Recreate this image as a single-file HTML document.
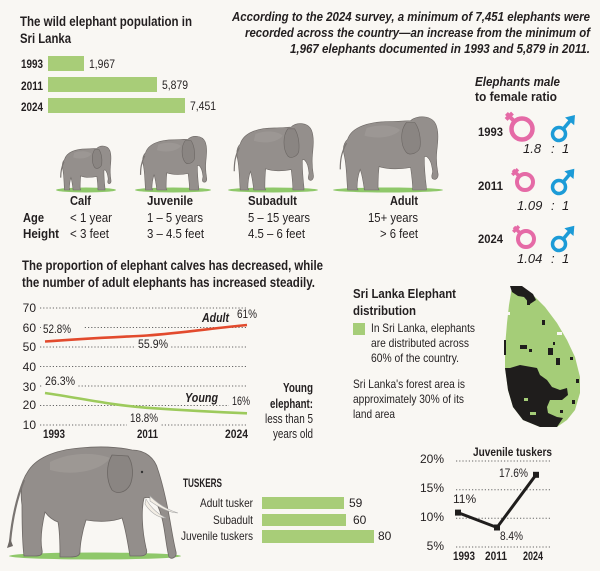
<!DOCTYPE html>
<html><head><meta charset="utf-8">
<style>
html,body{margin:0;padding:0;background:#f9f7f3;}
svg{display:block;}
text{font-family:"Liberation Sans",Arial,sans-serif;fill:#231f20;}
.b{font-weight:bold;}
.i{font-style:italic;}
</style></head>
<body>
<svg width="600" height="571" viewBox="0 0 600 571" xmlns="http://www.w3.org/2000/svg">
<defs>
<g id="el">
<path d="M12,26 C16,12 34,7 52,7 C62,7 68,6 72,6 C78,0 92,0 96,10 C99,18 98,28 97,38 C96,48 97,56 98,62 C99,67 96,70 93,68 C91,66 93,63 93,60 C92,52 91,48 88,45 C87,44 86,44 85,45 C85,58 86,68 87,77 L87,80 L74,80 C74,72 73,64 72,56 C62,58 50,58 42,55 C41,64 41,72 41,78 L42,80 L28,80 C27,72 26,64 24,58 C22,64 21,72 21,78 L22,80 L12,80 C11,66 11,54 9,44 C7,36 8,30 12,26 Z" fill="#948f8c" stroke="#6e6966" stroke-width="0.6" vector-effect="non-scaling-stroke"/>
<path d="M11,30 C6,40 5,48 5,58" fill="none" stroke="#7a7572" stroke-width="1.2" vector-effect="non-scaling-stroke"/>
<path d="M68,8 C62,16 62,32 68,40 C72,44 80,40 81,34 C82,24 80,14 76,8 Z" fill="#8a8582" stroke="#6b6663" stroke-width="0.6" vector-effect="non-scaling-stroke"/>
<path d="M30,14 C40,10 55,10 62,16 C56,24 40,26 28,22 Z" fill="#a29d9a" opacity="0.6"/>
</g>
</defs>

<!-- Title & population bars -->
<text x="20" y="26" class="b" font-size="14" textLength="172" lengthAdjust="spacingAndGlyphs">The wild elephant population in</text>
<text x="20" y="43" class="b" font-size="14" textLength="51" lengthAdjust="spacingAndGlyphs">Sri Lanka</text>
<text x="21" y="68" class="b" font-size="11.5" textLength="22" lengthAdjust="spacingAndGlyphs">1993</text>
<text x="21" y="90" class="b" font-size="11.5" textLength="22" lengthAdjust="spacingAndGlyphs">2011</text>
<text x="21" y="111" class="b" font-size="11.5" textLength="22" lengthAdjust="spacingAndGlyphs">2024</text>
<rect x="48" y="56" width="36" height="15" fill="#a8cd78"/>
<rect x="48" y="77" width="109" height="15" fill="#a8cd78"/>
<rect x="48" y="98" width="137" height="15" fill="#a8cd78"/>
<text x="89" y="68" font-size="12" textLength="26" lengthAdjust="spacingAndGlyphs">1,967</text>
<text x="162" y="89" font-size="12" textLength="26" lengthAdjust="spacingAndGlyphs">5,879</text>
<text x="190" y="110" font-size="12" textLength="26" lengthAdjust="spacingAndGlyphs">7,451</text>

<!-- Top right text -->
<text x="232" y="21" class="b i" font-size="13" textLength="358" lengthAdjust="spacingAndGlyphs">According to the 2024 survey, a minimum of 7,451 elephants were</text>
<text x="245" y="37" class="b i" font-size="13" textLength="345" lengthAdjust="spacingAndGlyphs">recorded across the country—an increase from the minimum of</text>
<text x="290" y="53" class="b i" font-size="13" textLength="300" lengthAdjust="spacingAndGlyphs">1,967 elephants documented in 1993 and 5,879 in 2011.</text>

<!-- Ratio -->
<text x="475" y="86" class="b i" font-size="13" textLength="85" lengthAdjust="spacingAndGlyphs">Elephants male</text>
<text x="475" y="101" class="b" font-size="13" textLength="82" lengthAdjust="spacingAndGlyphs">to female ratio</text>

<text x="478" y="136" class="b" font-size="12" textLength="25" lengthAdjust="spacingAndGlyphs">1993</text>
<text x="478" y="190" class="b" font-size="12" textLength="25" lengthAdjust="spacingAndGlyphs">2011</text>
<text x="478" y="243" class="b" font-size="12" textLength="25" lengthAdjust="spacingAndGlyphs">2024</text>

<!-- female symbols -->
<g stroke="#e56aa6" fill="none" stroke-linecap="butt">
 <g transform="translate(522,129) rotate(-45)">
  <circle r="10.5" stroke-width="4.5"/>
  <line x1="0" y1="-12" x2="0" y2="-22" stroke-width="4"/>
  <line x1="-4.5" y1="-18" x2="4.5" y2="-18" stroke-width="4"/>
 </g>
 <g transform="translate(525,182) rotate(-45)">
  <circle r="8" stroke-width="4"/>
  <line x1="0" y1="-9" x2="0" y2="-17" stroke-width="3.5"/>
  <line x1="-4" y1="-14" x2="4" y2="-14" stroke-width="3.5"/>
 </g>
 <g transform="translate(526,239) rotate(-45)">
  <circle r="8" stroke-width="4"/>
  <line x1="0" y1="-9" x2="0" y2="-17" stroke-width="3.5"/>
  <line x1="-4" y1="-14" x2="4" y2="-14" stroke-width="3.5"/>
 </g>
</g>
<!-- male symbols -->
<g stroke="#1c9bd7" fill="none">
 <g transform="translate(559,134) rotate(40)">
  <circle r="6.5" stroke-width="3.5"/>
  <line x1="0" y1="-8" x2="0" y2="-18" stroke-width="3.5"/>
  <path d="M-5,-17 L0,-24 L5,-17 Z" fill="#1c9bd7" stroke-width="1"/>
 </g>
 <g transform="translate(559,187) rotate(40)">
  <circle r="6.5" stroke-width="3.5"/>
  <line x1="0" y1="-8" x2="0" y2="-17" stroke-width="3.5"/>
  <path d="M-5,-16 L0,-23 L5,-16 Z" fill="#1c9bd7" stroke-width="1"/>
 </g>
 <g transform="translate(559,244) rotate(40)">
  <circle r="6.5" stroke-width="3.5"/>
  <line x1="0" y1="-8" x2="0" y2="-17" stroke-width="3.5"/>
  <path d="M-5,-16 L0,-23 L5,-16 Z" fill="#1c9bd7" stroke-width="1"/>
 </g>
</g>
<text x="523" y="153" class="i" font-size="13" fill="#333">1.8</text>
<text x="551" y="153" class="i" font-size="13">:</text>
<text x="562" y="153" class="i" font-size="13">1</text>
<text x="517" y="210" class="i" font-size="13">1.09</text>
<text x="551" y="210" class="i" font-size="13">:</text>
<text x="562" y="210" class="i" font-size="13">1</text>
<text x="517" y="263" class="i" font-size="13">1.04</text>
<text x="551" y="263" class="i" font-size="13">:</text>
<text x="562" y="263" class="i" font-size="13">1</text>

<!-- Elephant row -->
<ellipse cx="86" cy="190" rx="30" ry="2.5" fill="#8fc86a"/>
<ellipse cx="173" cy="190" rx="38" ry="2.5" fill="#8fc86a"/>
<ellipse cx="273" cy="190" rx="45" ry="2.5" fill="#8fc86a"/>
<ellipse cx="388" cy="190" rx="55" ry="2.5" fill="#8fc86a"/>
<use href="#el" transform="translate(58,145) scale(0.54,0.5625)"/>
<use href="#el" transform="translate(137,135) scale(0.71,0.6875)"/>
<use href="#el" transform="translate(230,122) scale(0.85,0.85)"/>
<use href="#el" transform="translate(335,115) scale(1.05,0.9375)"/>

<text x="70" y="205" class="b" font-size="13" textLength="21" lengthAdjust="spacingAndGlyphs">Calf</text>
<text x="147" y="205" class="b" font-size="13" textLength="46" lengthAdjust="spacingAndGlyphs">Juvenile</text>
<text x="248" y="205" class="b" font-size="13" textLength="49" lengthAdjust="spacingAndGlyphs">Subadult</text>
<text x="390" y="205" class="b" font-size="13" textLength="28" lengthAdjust="spacingAndGlyphs">Adult</text>
<text x="23" y="222" class="b" font-size="13" textLength="21" lengthAdjust="spacingAndGlyphs">Age</text>
<text x="23" y="238" class="b" font-size="13" textLength="36" lengthAdjust="spacingAndGlyphs">Height</text>
<text x="70" y="222" font-size="12.5" textLength="42" lengthAdjust="spacingAndGlyphs">&lt; 1 year</text>
<text x="147" y="222" font-size="12.5" textLength="56" lengthAdjust="spacingAndGlyphs">1 – 5 years</text>
<text x="248" y="222" font-size="12.5" textLength="62" lengthAdjust="spacingAndGlyphs">5 – 15 years</text>
<text x="368" y="222" font-size="12.5" textLength="50" lengthAdjust="spacingAndGlyphs">15+ years</text>
<text x="70" y="238" font-size="12.5" textLength="39" lengthAdjust="spacingAndGlyphs">&lt; 3 feet</text>
<text x="147" y="238" font-size="12.5" textLength="57" lengthAdjust="spacingAndGlyphs">3 – 4.5 feet</text>
<text x="248" y="238" font-size="12.5" textLength="57" lengthAdjust="spacingAndGlyphs">4.5 – 6 feet</text>
<text x="380" y="238" font-size="12.5" textLength="38" lengthAdjust="spacingAndGlyphs">&gt; 6 feet</text>

<!-- Line chart -->
<text x="22" y="270" class="b" font-size="13.5" textLength="301" lengthAdjust="spacingAndGlyphs">The proportion of elephant calves has decreased, while</text>
<text x="22" y="287" class="b" font-size="13.5" textLength="293" lengthAdjust="spacingAndGlyphs">the number of adult elephants has increased steadily.</text>

<g stroke="#666" stroke-width="1" stroke-dasharray="1.2 2" fill="none">
 <line x1="40" y1="308" x2="248" y2="308"/>
 <line x1="40" y1="327.5" x2="248" y2="327.5"/>
 <line x1="40" y1="347" x2="248" y2="347"/>
 <line x1="40" y1="366.5" x2="248" y2="366.5"/>
 <line x1="40" y1="386" x2="248" y2="386"/>
 <line x1="40" y1="405.5" x2="248" y2="405.5"/>
 <line x1="40" y1="425" x2="248" y2="425"/>
</g>
<g fill="#f9f7f3">
 <rect x="41" y="321" width="43" height="13"/>
 <rect x="136" y="338" width="34" height="12"/>
 <rect x="42" y="374" width="36" height="13"/>
 <rect x="127" y="412" width="33" height="15"/>
 <rect x="229" y="395" width="23" height="12"/>
</g>
<g font-size="12" text-anchor="end">
 <text x="36" y="312">70</text>
 <text x="36" y="332">60</text>
 <text x="36" y="351">50</text>
 <text x="36" y="371">40</text>
 <text x="36" y="391">30</text>
 <text x="36" y="409">20</text>
 <text x="36" y="429">10</text>
</g>
<path d="M45,341.5 C90,338 120,337 147,335.5 C180,333 215,328 247,325" fill="none" stroke="#e24a2d" stroke-width="2.6"/>
<path d="M45,393 C80,398 110,405 147,407.8 C180,410 215,412 247,413.3" fill="none" stroke="#9dca5c" stroke-width="2.6"/>
<text x="43" y="333" font-size="12" textLength="28" lengthAdjust="spacingAndGlyphs">52.8%</text>
<text x="237" y="318" font-size="12" textLength="20" lengthAdjust="spacingAndGlyphs">61%</text>
<text x="138" y="348" font-size="12" textLength="30" lengthAdjust="spacingAndGlyphs">55.9%</text>
<text x="45" y="385" font-size="12" textLength="30" lengthAdjust="spacingAndGlyphs">26.3%</text>
<text x="232" y="405" font-size="12" textLength="18" lengthAdjust="spacingAndGlyphs">16%</text>
<text x="130" y="422" font-size="12" textLength="28" lengthAdjust="spacingAndGlyphs">18.8%</text>
<text x="202" y="322" class="b i" font-size="13" textLength="27" lengthAdjust="spacingAndGlyphs">Adult</text>
<text x="185" y="402" class="b i" font-size="13" textLength="33" lengthAdjust="spacingAndGlyphs">Young</text>
<text x="43" y="438" class="b" font-size="12" textLength="22" lengthAdjust="spacingAndGlyphs">1993</text>
<text x="137" y="438" class="b" font-size="12" textLength="21" lengthAdjust="spacingAndGlyphs">2011</text>
<text x="225" y="438" class="b" font-size="12" textLength="23" lengthAdjust="spacingAndGlyphs">2024</text>
<text x="283" y="392" class="b" font-size="13" textLength="30" lengthAdjust="spacingAndGlyphs">Young</text>
<text x="270" y="408" class="b" font-size="13" textLength="43" lengthAdjust="spacingAndGlyphs">elephant:</text>
<text x="265" y="423" font-size="12.5" textLength="48" lengthAdjust="spacingAndGlyphs">less than 5</text>
<text x="273" y="438" font-size="12.5" textLength="40" lengthAdjust="spacingAndGlyphs">years old</text>

<!-- Map text -->
<text x="353" y="298" class="b" font-size="13" textLength="103" lengthAdjust="spacingAndGlyphs">Sri Lanka Elephant</text>
<text x="353" y="315" class="b" font-size="13" textLength="63" lengthAdjust="spacingAndGlyphs">distribution</text>
<rect x="353" y="323" width="12" height="12" fill="#a6cd78"/>
<text x="371" y="332" font-size="12" textLength="104" lengthAdjust="spacingAndGlyphs">In Sri Lanka, elephants</text>
<text x="371" y="347" font-size="12" textLength="98" lengthAdjust="spacingAndGlyphs">are distributed across</text>
<text x="371" y="362" font-size="12" textLength="88" lengthAdjust="spacingAndGlyphs">60% of the country.</text>
<text x="353" y="388" font-size="12" textLength="112" lengthAdjust="spacingAndGlyphs">Sri Lanka's forest area is</text>
<text x="353" y="403" font-size="12" textLength="111" lengthAdjust="spacingAndGlyphs">approximately 30% of its</text>
<text x="353" y="418" font-size="12" textLength="42" lengthAdjust="spacingAndGlyphs">land area</text>

<!-- Map -->
<path d="M512,287 L523,288 L533,295 L545,307 L557,323 L567,340 L575,357 L580,377 L580,393 L575,410 L567,420 L557,427 L540,427 L523,420 L513,407 L508,390 L505,367 L505,347 L507,323 L509,305 Z" fill="#a5cd78"/>
<path d="M505,368 L510,368 L520,365 L537,368 L540,375 L547,380 L552,387 L560,390 L567,388 L568,395 L562,400 L550,400 L547,407 L548,413 L557,417 L563,418 L557,427 L540,427 L523,420 L513,407 L508,390 Z" fill="#1f1d1c"/>
<path d="M510,286 L522,286 L533,294 L536,300 L530,304 L524,297 L518,296 L512,292 Z" fill="#1f1d1c"/>
<g fill="#1f1d1c">
 <rect x="520" y="345" width="7" height="4"/>
 <rect x="529" y="349" width="3" height="3"/>
 <rect x="548" y="348" width="5" height="7"/>
 <rect x="556" y="358" width="4" height="7"/>
 <rect x="542" y="320" width="3" height="5"/>
 <rect x="527" y="300" width="3" height="5"/>
 <rect x="570" y="357" width="3" height="3"/>
 <rect x="576" y="379" width="3" height="4"/>
 <rect x="560" y="410" width="3" height="3"/>
 <rect x="553" y="342" width="2" height="3"/>
 <rect x="572" y="400" width="3" height="4"/>
 <rect x="504" y="340" width="2" height="15"/>
</g>
<rect x="530" y="412" width="6" height="3" fill="#a5cd78"/>
<rect x="524" y="398" width="4" height="3" fill="#a5cd78"/>
<rect x="505" y="312" width="5" height="3" fill="#f9f7f3"/>
<rect x="557" y="332" width="5" height="3" fill="#f9f7f3"/>

<!-- Big elephant -->
<ellipse cx="95" cy="556" rx="86" ry="3.5" fill="#8fc86a"/>
<path d="M27,473 C35,458 55,450 80,448 C100,446 118,447 132,450 C145,450 155,458 158,470 C162,482 165,495 168,510 C171,525 173,540 176,552 C177,557 172,560 169,557 C167,550 166,540 164,528 C162,516 159,506 154,500 C150,497 147,497 144,498 C141,510 142,530 146,548 C148,553 146,556 140,556 L130,556 C128,545 126,530 122,518 C112,522 98,522 86,520 C82,532 80,545 80,552 C80,556 76,557 70,557 L60,557 C60,545 60,532 58,522 C52,520 48,516 45,512 C42,525 40,540 42,550 C43,555 40,556 35,556 L24,556 C22,540 22,522 22,505 C20,492 22,480 27,473 Z" fill="#938e8b" stroke="#6e6966" stroke-width="0.8"/>
<path d="M50,462 C70,452 95,452 110,458 C100,472 70,476 50,470 Z" fill="#a39e9b" opacity="0.6"/>
<path d="M24,480 C16,500 12,520 10,542" fill="none" stroke="#7a7572" stroke-width="2.2"/>
<path d="M10,538 L7,548 L13,546 Z" fill="#6e6966"/>
<path d="M112,455 C106,465 106,480 112,490 C118,495 126,492 130,485 C134,476 133,463 128,456 Z" fill="#8a8582" stroke="#6b6663" stroke-width="0.8"/>
<circle cx="142" cy="472" r="1.2" fill="#333"/>
<path d="M150,496 C158,504 168,510 178,513 C170,513 158,507 150,501 Z" fill="#f3eee5" stroke="#aaa" stroke-width="0.6"/>
<path d="M146,499 C151,508 158,514 166,518 C158,518 150,512 145,504 Z" fill="#f3eee5" stroke="#aaa" stroke-width="0.6"/>

<!-- Tuskers -->
<text x="183" y="487" class="b" font-size="12" textLength="39" lengthAdjust="spacingAndGlyphs">TUSKERS</text>
<g font-size="12" text-anchor="end">
 <text x="253" y="507" textLength="53" lengthAdjust="spacingAndGlyphs">Adult tusker</text>
 <text x="253" y="524" textLength="40" lengthAdjust="spacingAndGlyphs">Subadult</text>
 <text x="253" y="540" textLength="72" lengthAdjust="spacingAndGlyphs">Juvenile tuskers</text>
</g>
<rect x="262" y="497" width="82" height="12" fill="#a8cd78"/>
<rect x="262" y="514" width="84" height="12" fill="#a8cd78"/>
<rect x="262" y="530" width="112" height="13" fill="#a8cd78"/>
<text x="349" y="507" font-size="12">59</text>
<text x="353" y="524" font-size="12">60</text>
<text x="378" y="540" font-size="12">80</text>

<!-- Juvenile tuskers chart -->
<text x="473" y="456" class="b" font-size="12" textLength="79" lengthAdjust="spacingAndGlyphs">Juvenile tuskers</text>
<g stroke="#666" stroke-width="1" stroke-dasharray="1.2 2" fill="none">
 <line x1="456" y1="461" x2="552" y2="461"/>
 <line x1="456" y1="489.7" x2="552" y2="489.7"/>
 <line x1="456" y1="518.3" x2="552" y2="518.3"/>
 <line x1="456" y1="547" x2="552" y2="547"/>
</g>
<g font-size="12" text-anchor="end">
 <text x="444" y="463">20%</text>
 <text x="444" y="492">15%</text>
 <text x="444" y="521">10%</text>
 <text x="444" y="550">5%</text>
</g>
<path d="M458,512.6 L497,527.5 L536,474.8" fill="none" stroke="#1f1d1c" stroke-width="3"/>
<rect x="455" y="509.6" width="6" height="6" fill="#1f1d1c"/>
<rect x="494" y="524.5" width="6" height="6" fill="#1f1d1c"/>
<rect x="533" y="471.8" width="6" height="6" fill="#1f1d1c"/>
<text x="453" y="503" font-size="12">11%</text>
<text x="499" y="477" font-size="12" textLength="29" lengthAdjust="spacingAndGlyphs">17.6%</text>
<text x="500" y="540" font-size="12" textLength="23" lengthAdjust="spacingAndGlyphs">8.4%</text>
<text x="453" y="560" class="b" font-size="12" textLength="22" lengthAdjust="spacingAndGlyphs">1993</text>
<text x="485" y="560" class="b" font-size="12" textLength="22" lengthAdjust="spacingAndGlyphs">2011</text>
<text x="523" y="560" class="b" font-size="12" textLength="20" lengthAdjust="spacingAndGlyphs">2024</text>
</svg>
</body></html>
